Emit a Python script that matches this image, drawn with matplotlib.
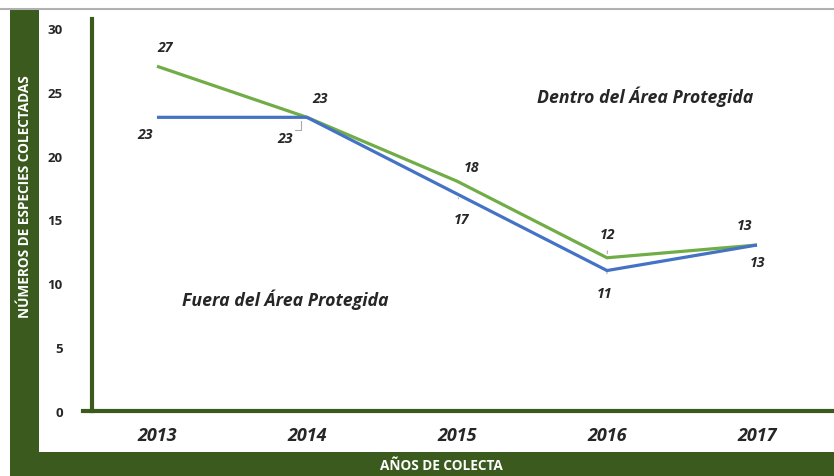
import matplotlib
matplotlib.use("Agg")
import matplotlib.pyplot as plt
from matplotlib.patches import Rectangle
from matplotlib.lines import Line2D

years = ["2013", "2014", "2015", "2016", "2017"]
dentro = [27, 23, 18, 12, 13]
fuera = [23, 23, 17, 11, 13]
yticks = [0, 5, 10, 15, 20, 25, 30]

# label offsets in pixels (layout only)
dentro_off = [(8, 19), (13, 19), (15, 14), (1, 24), (-12, 20)]
fuera_off = [(-12, -17), (-22, -21), (5, -25), (-2, -22), (1, -17)]

W, H = 834, 477
DG = "#3a5a1e"
GREEN = "#70ad47"
BLUE = "#4472c4"
TXT = "#262626"
FONT = ["Open Sans", "DejaVu Sans"]

fig = plt.figure(figsize=(W / 100, H / 100), dpi=100)
fig.patch.set_facecolor("white")

def fx(px):
    return px / W

def fy(py):
    return 1 - py / H

# frame bands
fig.patches.append(Rectangle((fx(10), 0), fx(39) - fx(10), fy(10), transform=fig.transFigure,
                             facecolor=DG, edgecolor="none", zorder=0))
fig.patches.append(Rectangle((fx(10), 0), 1 - fx(10), fy(453), transform=fig.transFigure,
                             facecolor=DG, edgecolor="none", zorder=0))
fig.lines.append(Line2D([0, 1], [fy(10), fy(10)], transform=fig.transFigure,
                        color="#b0b0b0", lw=1.5))

ax = fig.add_axes([fx(92), fy(412), fx(832) - fx(92), fy(20) - fy(412)])
ax.set_facecolor("none")
x = list(range(len(years)))
ax.set_xlim(-0.433, 4.5)
ax.set_ylim(0, 30.7)

ax.plot(x, dentro, color=GREEN, lw=2.3, solid_capstyle="butt", zorder=3)
ax.plot(x, fuera, color=BLUE, lw=2.3, solid_capstyle="butt", zorder=4)

for spine in ["top", "right"]:
    ax.spines[spine].set_visible(False)
ax.spines["left"].set_color(DG)
ax.spines["left"].set_linewidth(3)
ax.spines["bottom"].set_visible(False)
ax.axhline(0, xmin=-0.012, xmax=1.0, color=DG, lw=3, clip_on=False, zorder=5)

ax.set_yticks(yticks)
ax.set_yticklabels([str(v) for v in yticks], fontsize=9.5, fontweight="bold",
                   color=TXT, family=FONT)
ax.tick_params(axis="y", length=0, pad=21)
ax.set_xticks(x)
ax.set_xticklabels(years, fontsize=13, fontweight="bold", fontstyle="italic",
                   color=TXT, family=FONT)
ax.tick_params(axis="x", length=0, pad=11)

lab_kw = dict(textcoords="offset pixels", ha="center", va="center", fontsize=10.2,
              fontweight="bold", fontstyle="italic", color=TXT, family=FONT)
for i, v in enumerate(dentro):
    ax.annotate(str(v), (x[i], v), xytext=dentro_off[i], **lab_kw)
for i, v in enumerate(fuera):
    ax.annotate(str(v), (x[i], v), xytext=fuera_off[i], **lab_kw)

# small leader lines
lead = dict(arrowstyle="-", color="#aaaaaa", lw=0.8, shrinkA=7, shrinkB=3)
ax.annotate("", (x[3], dentro[3]), xytext=(x[3] + 0.007, dentro[3] + 1.3),
            arrowprops=lead)
ax.annotate("", (x[3], fuera[3]), xytext=(x[3], fuera[3] - 1.0), arrowprops=lead)
ax.annotate("", (x[2], fuera[2]), xytext=(x[2] + 0.03, fuera[2] - 1.1), arrowprops=lead)
ax.plot([x[1] - 0.04, x[1] - 0.04, x[1] - 0.08], [fuera[1] - 0.3, fuera[1] - 1.0, fuera[1] - 1.0],
        color="#aaaaaa", lw=0.8)

ax.text(fx(645), fy(97), "Dentro del Área Protegida", transform=fig.transFigure,
        ha="center", va="center", fontsize=12.8, fontweight="bold", fontstyle="italic",
        color=TXT, family=FONT)
ax.text(fx(285), fy(300), "Fuera del Área Protegida", transform=fig.transFigure,
        ha="center", va="center", fontsize=12.8, fontweight="bold", fontstyle="italic",
        color=TXT, family=FONT)

fig.text(fx(25), fy(197), "NÚMEROS DE ESPECIES COLECTADAS", rotation=90, ha="center",
         va="center", fontsize=9.8, fontweight="bold", color="white", family=FONT)
fig.text(fx(441), fy(466), "AÑOS DE COLECTA", ha="center", va="center", fontsize=9.8,
         fontweight="bold", color="white", family=FONT)

fig.savefig("out.png", dpi=100, facecolor="white")
